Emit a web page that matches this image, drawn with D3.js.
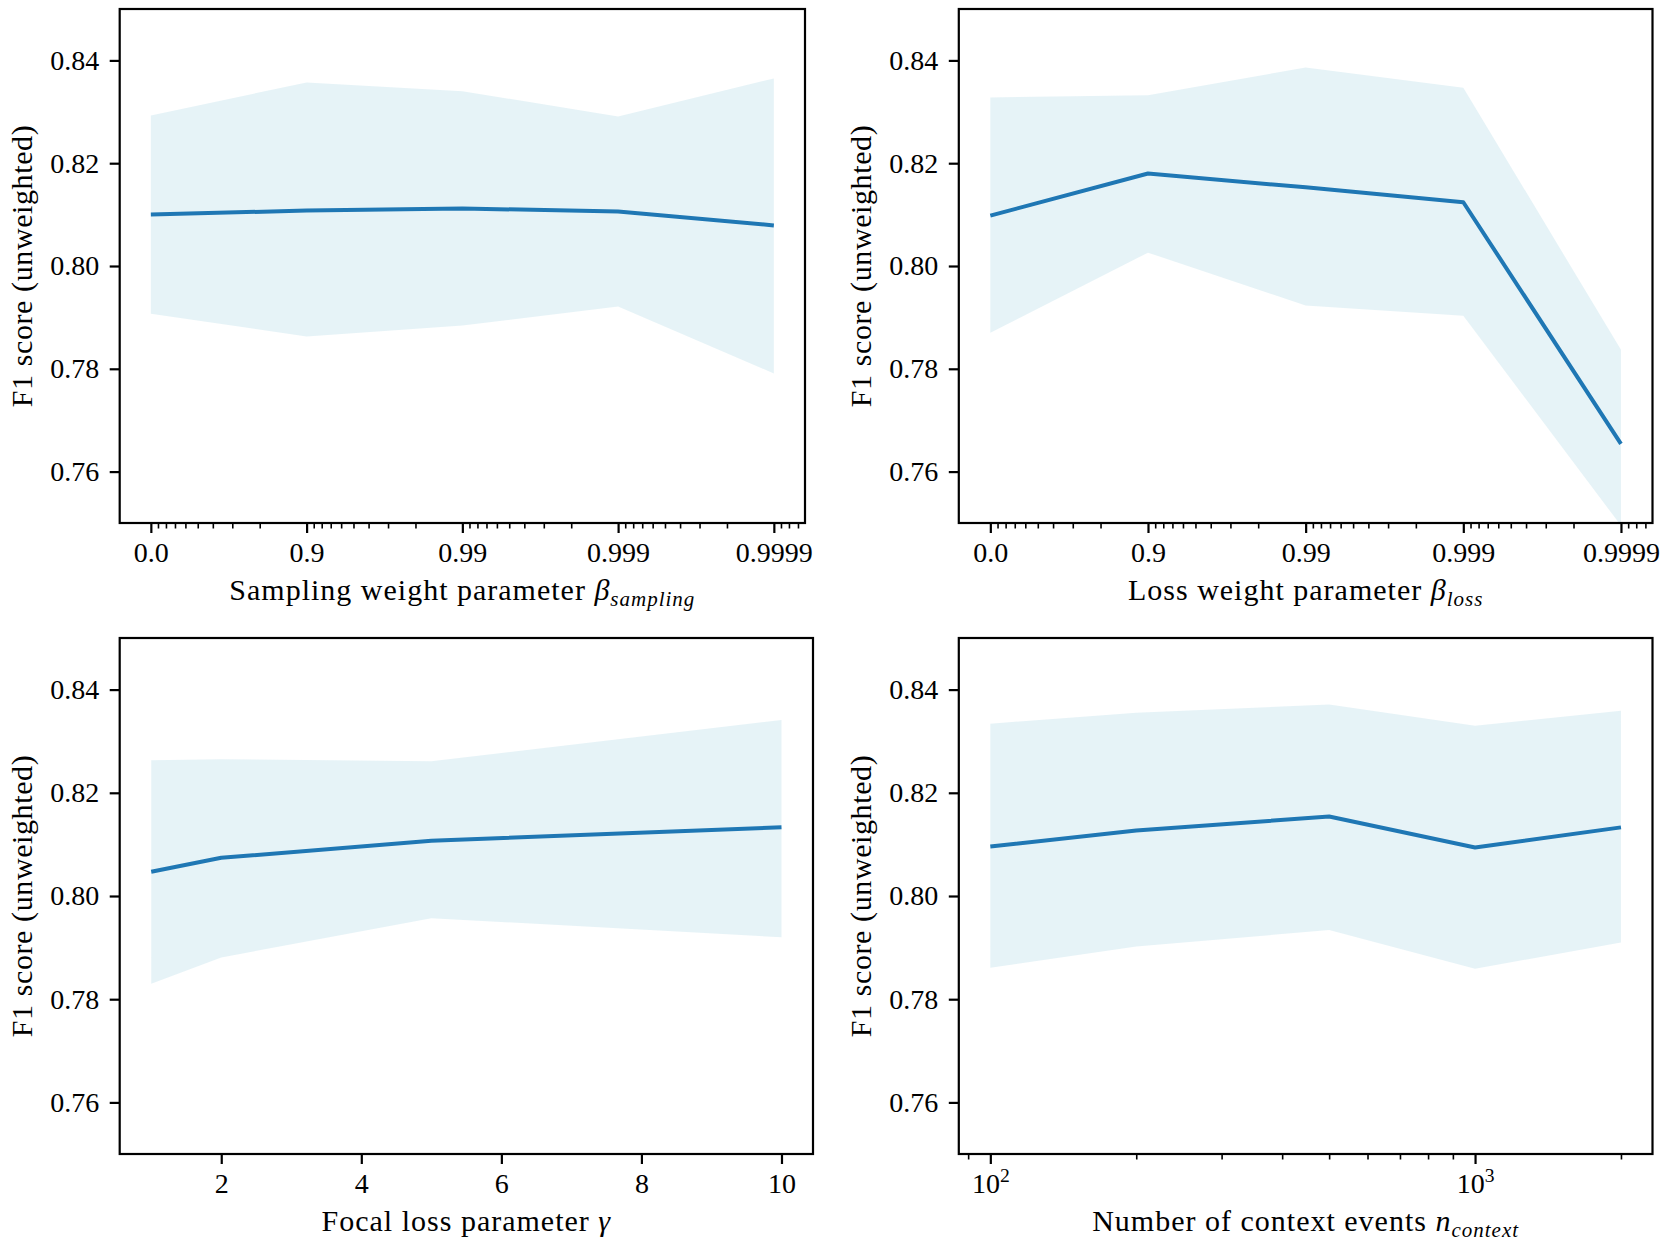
<!DOCTYPE html>
<html>
<head>
<meta charset="utf-8">
<script src="https://cdn.jsdelivr.net/npm/d3@7"></script>
<style>
  body { margin: 0; background: #fff; }
  text { font-family: "Liberation Serif", "DejaVu Serif", serif; fill: #000; }
</style>
</head>
<body>
<svg id="chart" width="1661" height="1246"></svg>
<script>
// ---- data ----
const betaValues = [0, 0.9, 0.99, 0.999, 0.9999];
const betaTickLabels = ['0.0', '0.9', '0.99', '0.999', '0.9999'];

const samplingMean = [0.8100, 0.8108, 0.8112, 0.8106, 0.8079];
const samplingUpper = [0.8293, 0.8357, 0.8340, 0.8291, 0.8365];
const samplingLower = [0.7907, 0.7863, 0.7884, 0.7921, 0.7791];

const lossMean = [0.8098, 0.8180, 0.8153, 0.8124, 0.7654];
const lossUpper = [0.8328, 0.8332, 0.8386, 0.8347, 0.7837];
const lossLower = [0.7870, 0.8026, 0.7923, 0.7903, 0.7495];

const gammaValues = [1, 2, 5, 10];
const gammaTicks = [2, 4, 6, 8, 10];
const focalMean = [0.8047, 0.8074, 0.8107, 0.8133];
const focalUpper = [0.8263, 0.8265, 0.8261, 0.8341];
const focalLower = [0.7830, 0.7881, 0.7957, 0.7920];

const contextValues = [100, 200, 500, 1000, 2000];
const contextTicks = [100, 1000];
const contextMean = [0.8096, 0.8127, 0.8154, 0.8094, 0.8133];
const contextUpper = [0.8334, 0.8355, 0.8371, 0.8330, 0.8359];
const contextLower = [0.7861, 0.7902, 0.7934, 0.7859, 0.7910];

const yTicks = [0.76, 0.78, 0.80, 0.82, 0.84];
const yLabel = 'F1 score (unweighted)';

// ---- layout ----
const FS = 28;      // tick labels
const LFS = 30;     // axis labels
const lineColor = '#1f77b4';
const svg = d3.select('#chart');

const panels = [
  { left: 119.7, right: 805, top: 9, bottom: 523, kind: 'beta',
    xs: betaValues, mean: samplingMean, lo: samplingLower, hi: samplingUpper,
    label: ['Sampling weight parameter ', 'β', 'sampling'] },
  { left: 958.8, right: 1652.5, top: 9, bottom: 523, kind: 'beta',
    xs: betaValues, mean: lossMean, lo: lossLower, hi: lossUpper,
    label: ['Loss weight parameter ', 'β', 'loss'] },
  { left: 119.7, right: 813, top: 638, bottom: 1154, kind: 'linear',
    xs: gammaValues, mean: focalMean, lo: focalLower, hi: focalUpper,
    label: ['Focal loss parameter ', 'γ', null] },
  { left: 958.8, right: 1652.5, top: 638, bottom: 1154, kind: 'log',
    xs: contextValues, mean: contextMean, lo: contextLower, hi: contextUpper,
    label: ['Number of context events ', 'n', 'context'] },
];

function isDecade(t) {
  const l = Math.log10(t);
  return Math.abs(l - Math.round(l)) < 1e-6;
}

function styleAxis(g, width) {
  g.select('.domain').remove();
  g.attr('font-family', null).attr('font-size', FS);
  g.selectAll('.tick line').attr('stroke', '#000').attr('stroke-width', width);
}

function drawPanel(p, idx) {
  const g = svg.append('g');
  const y = d3.scaleLinear().domain([0.75, 0.85]).range([p.bottom, p.top]);

  let x, xpos, majors, minors = [], fmt;
  if (p.kind === 'beta') {
    // axis runs on 1 - beta, reversed log scale
    x = d3.scaleLog().domain([Math.pow(10, 0.2), Math.pow(10, -4.2)]).range([p.left, p.right]);
    xpos = (b) => x(1 - b);
    majors = betaValues.map((b) => 1 - b);
    minors = x.ticks().filter((t) => !isDecade(t));
    fmt = (d, i) => betaTickLabels[i];
  } else if (p.kind === 'log') {
    const lo = Math.log10(100), hi = Math.log10(2000), m = (hi - lo) * 0.05;
    x = d3.scaleLog().domain([Math.pow(10, lo - m), Math.pow(10, hi + m)]).range([p.left, p.right]);
    xpos = (v) => x(v);
    majors = contextTicks;
    minors = x.ticks().filter((t) => !isDecade(t));
    fmt = () => '';
  } else {
    x = d3.scaleLinear().domain([0.55, 10.45]).range([p.left, p.right]);
    xpos = (v) => x(v);
    majors = gammaTicks;
    fmt = d3.format('d');
  }

  const clipId = 'clip' + idx;
  svg.append('clipPath').attr('id', clipId)
    .append('rect')
    .attr('x', p.left).attr('y', p.top)
    .attr('width', p.right - p.left).attr('height', p.bottom - p.top);

  const idxs = d3.range(p.xs.length);
  const area = d3.area()
    .x((i) => xpos(p.xs[i]))
    .y0((i) => y(p.lo[i]))
    .y1((i) => y(p.hi[i]));
  const line = d3.line()
    .x((i) => xpos(p.xs[i]))
    .y((i) => y(p.mean[i]));

  const plot = g.append('g').attr('clip-path', `url(#${clipId})`);
  plot.append('path').datum(idxs)
    .attr('d', area)
    .attr('fill', '#add8e6').attr('fill-opacity', 0.3);
  plot.append('path').datum(idxs)
    .attr('d', line)
    .attr('fill', 'none').attr('stroke', lineColor)
    .attr('stroke-width', 4).attr('stroke-linejoin', 'round');

  // y axis
  const ya = g.append('g').attr('transform', `translate(${p.left},0)`)
    .call(d3.axisLeft(y).tickValues(yTicks).tickSize(10).tickPadding(10.5)
      .tickFormat(d3.format('.2f')));
  styleAxis(ya, 2.2);

  // x axis minor
  if (minors.length) {
    const xm = g.append('g').attr('transform', `translate(0,${p.bottom})`)
      .call(d3.axisBottom(x).tickValues(minors).tickSize(5.5).tickFormat(''));
    styleAxis(xm, 1.6);
  }
  // x axis major
  const xa = g.append('g').attr('transform', `translate(0,${p.bottom})`)
    .call(d3.axisBottom(x).tickValues(majors).tickSize(10).tickPadding(9).tickFormat(fmt));
  styleAxis(xa, 2.2);

  if (p.kind === 'log') {
    xa.selectAll('.tick text').each(function (d) {
      const t = d3.select(this);
      t.append('tspan').text('10');
      t.append('tspan').attr('dy', -11).attr('font-size', FS * 0.7)
        .text(Math.round(Math.log10(d)));
    });
  }

  // frame
  g.append('rect')
    .attr('x', p.left).attr('y', p.top)
    .attr('width', p.right - p.left).attr('height', p.bottom - p.top)
    .attr('fill', 'none').attr('stroke', '#000').attr('stroke-width', 2.2);

  // x label
  const xl = g.append('text')
    .attr('x', (p.left + p.right) / 2)
    .attr('y', p.bottom + 77)
    .attr('text-anchor', 'middle')
    .attr('font-size', LFS)
    .attr('letter-spacing', 1);
  xl.append('tspan').text(p.label[0]);
  xl.append('tspan').attr('font-style', 'italic').text(p.label[1]);
  if (p.label[2]) {
    xl.append('tspan').attr('font-style', 'italic')
      .attr('font-size', LFS * 0.7).attr('dy', 6).text(p.label[2]);
  }

  // y label
  const cy = (p.top + p.bottom) / 2;
  g.append('text')
    .attr('transform', `translate(${p.left - 88},${cy}) rotate(-90)`)
    .attr('text-anchor', 'middle')
    .attr('font-size', LFS)
    .attr('letter-spacing', 0.6)
    .text(yLabel);
}

panels.forEach(drawPanel);
</script>
</body>
</html>
